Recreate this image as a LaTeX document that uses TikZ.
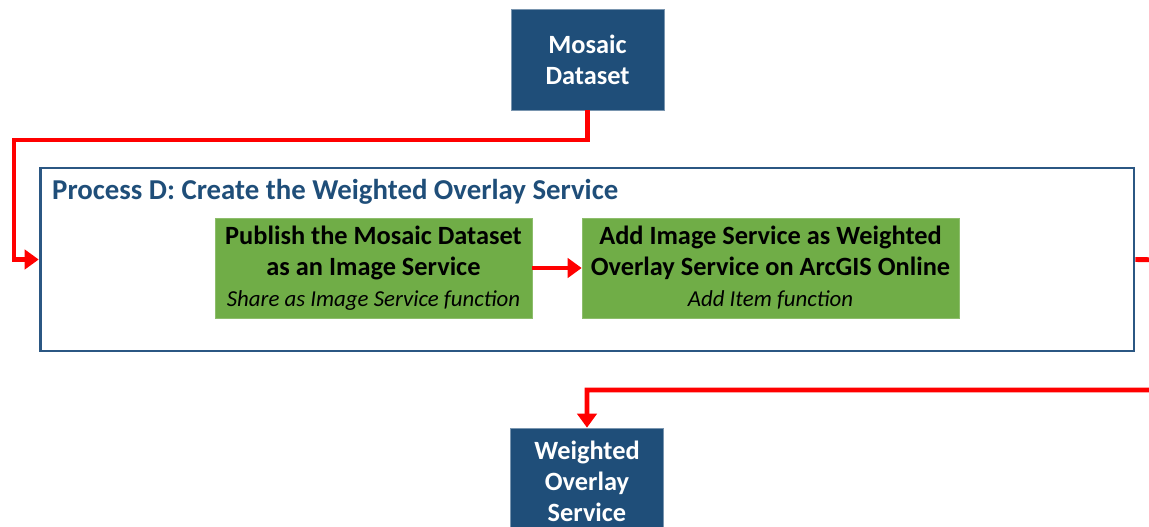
\documentclass[tikz,border=0pt]{standalone}
\usepackage{fontspec}
\setmainfont{Carlito}
\usetikzlibrary{arrows.meta}
\definecolor{darkblue}{HTML}{1F4E79}
\definecolor{framecol}{HTML}{2B5783}
\definecolor{stepgreen}{HTML}{70AD47}
\definecolor{flowred}{HTML}{FF0000}
\newcommand{\fnote}{\fontsize{13}{15}\selectfont\mdseries\itshape}
\begin{document}
\begin{tikzpicture}[x=0.02cm, y=-0.02cm,
		datastore/.style={draw=darkblue!60, fill=darkblue, text=white, font=\fontsize{15}{17.6}\selectfont\bfseries, align=center, minimum width=3.06cm, inner sep=0pt},
		stepbox/.style={draw=stepgreen!80, fill=stepgreen, font=\fontsize{15}{17.6}\selectfont\bfseries, align=center, minimum height=2cm, inner sep=0pt},
		flow/.style={draw=flowred, line width=2.8pt, -{Triangle[length=8pt,width=11pt]}}]
			\useasboundingbox (0,0) rectangle (1149,527);
			\node	(mosaic) at (587.5,59.5) [datastore, minimum height=2.02cm] {Mosaic\\Dataset};
			\node	(frame) at (587,259.5) [draw=framecol, line width=1.6pt, minimum width=21.88cm, minimum height=3.66cm] {};
			\node	(title) at (46,192) [anchor=west, text=darkblue, font=\fontsize{16.4}{19}\selectfont\bfseries] {Process D: Create the Weighted Overlay Service};
			\node	(publish) at (373.5,268) [stepbox, minimum width=6.34cm] {Publish the Mosaic Dataset\\as an Image Service\\ \fnote Share as Image Service function};
			\node	(additem) at (770.5,268) [stepbox, minimum width=7.54cm] {Add Image Service as Weighted\\Overlay Service on ArcGIS Online\\ \fnote Add Item function};
			\node	(service) at (587,481) [datastore, minimum height=2.12cm] {Weighted\\Overlay\\Service};
			
			\coordinate (l1) at (14,140);
			\coordinate (r1) at (1165,260);
			\coordinate (r2) at (1165,390);
			
			\draw[flow] (mosaic.south) |- (l1) |- (frame.west);
			\draw[flow] (publish) -- (additem);
			\draw[flow] (frame.east) -- (r1) -- (r2) -| (service.north);
		\end{tikzpicture}
\end{document}
